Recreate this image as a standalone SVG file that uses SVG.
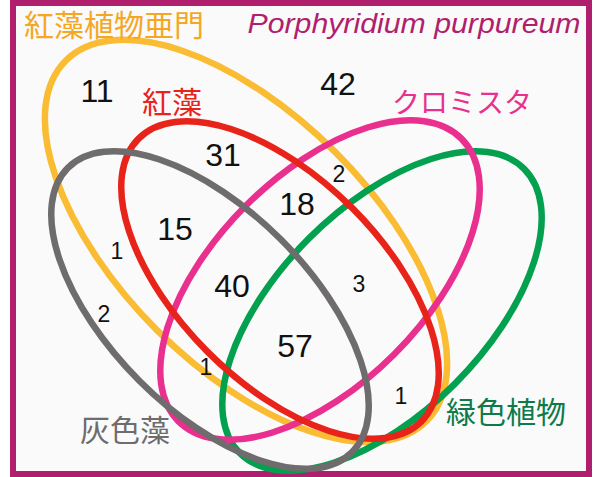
<svg xmlns="http://www.w3.org/2000/svg" width="594" height="477" viewBox="0 0 594 477">
<style>
.e{fill:none;stroke-width:6.5}
.n{font-family:"Liberation Sans",Arial,sans-serif;fill:#111;text-anchor:middle}
.big{font-size:32px}
.sm{font-size:23px}
.j{font-family:"Noto Sans CJK JP","Noto Sans",sans-serif;text-anchor:middle}
</style>
<rect x="0" y="0" width="594" height="477" fill="#ffffff"/>
<rect x="13" y="3" width="576" height="471" fill="#fafafa" stroke="#b01f6e" stroke-width="6"/>
<g id="connectors"></g>
<g id="set-rhodophytina"><ellipse class="e" cx="246" cy="241" rx="255" ry="126" transform="rotate(45 246 241)" stroke="#f9bc33"/></g>
<g id="set-viridiplantae"><ellipse class="e" cx="382" cy="311" rx="201" ry="103" transform="rotate(-45 382 311)" stroke="#02a04f"/></g>
<g id="set-chromista"><ellipse class="e" cx="320" cy="280" rx="200" ry="105" transform="rotate(-45 320 280)" stroke="#e9308e"/></g>
<g id="set-red-algae"><ellipse class="e" cx="280" cy="280" rx="200" ry="102" transform="rotate(45 280 280)" stroke="#e8231a"/></g>
<g id="set-glaucophyta"><ellipse class="e" cx="210" cy="310" rx="201" ry="100" transform="rotate(45 210 310)" stroke="#6e6c6c"/></g>
<g id="labels">
<text class="j" x="114" y="36" font-size="30" fill="#f5a623">紅藻植物亜門</text>
<text x="414" y="33" font-family="Liberation Sans,Arial,sans-serif" font-style="italic" font-size="27" fill="#b01f6e" text-anchor="middle" textLength="333" lengthAdjust="spacingAndGlyphs">Porphyridium purpureum</text>
<text class="j" x="172" y="113" font-size="30" fill="#e8231a">紅藻</text>
<text class="j" x="462" y="113" font-size="28" fill="#e9308e">クロミスタ</text>
<text class="j" x="125" y="441" font-size="30" fill="#6e6c6c">灰色藻</text>
<text class="j" x="506" y="423" font-size="30" fill="#0e7a4a">緑色植物</text>
</g>
<g id="counts">
<text class="n big" x="97" y="102">11</text>
<text class="n big" x="338" y="95">42</text>
<text class="n big" x="223" y="166">31</text>
<text class="n big" x="297" y="215">18</text>
<text class="n big" x="175" y="240">15</text>
<text class="n big" x="232" y="297">40</text>
<text class="n big" x="295" y="357">57</text>
<text class="n sm" x="339" y="182">2</text>
<text class="n sm" x="117" y="259">1</text>
<text class="n sm" x="104" y="322">2</text>
<text class="n sm" x="359" y="292">3</text>
<text class="n sm" x="206" y="375">1</text>
<text class="n sm" x="401" y="404">1</text>
</g>
</svg>
